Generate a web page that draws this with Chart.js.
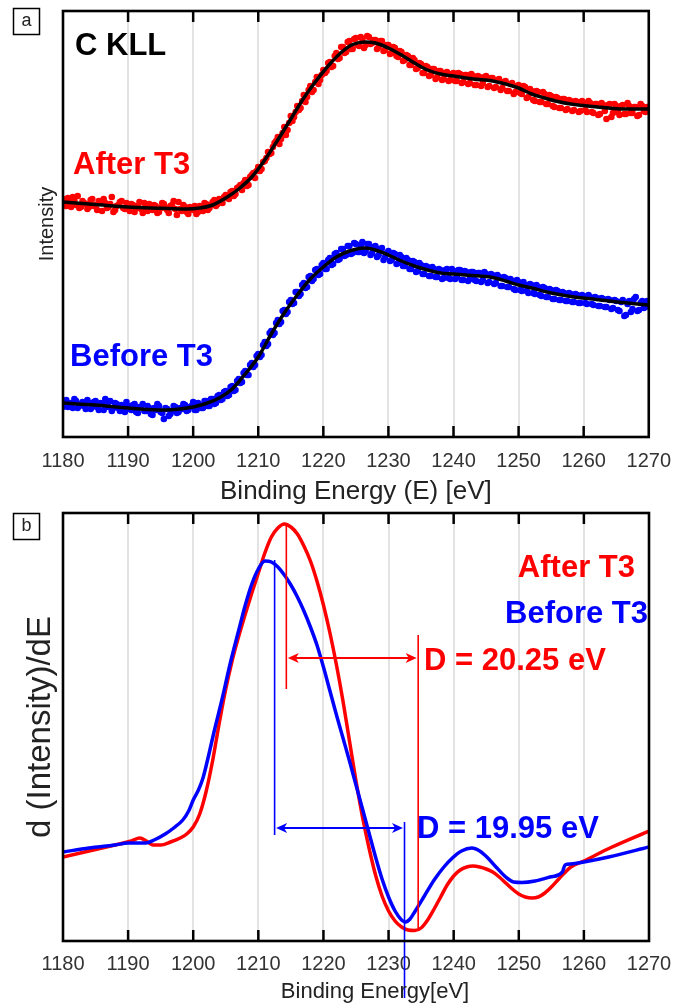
<!DOCTYPE html>
<html><head><meta charset="utf-8">
<script src="https://cdn.jsdelivr.net/npm/chart.js@4.4.1/dist/chart.umd.min.js"></script>
<style>
html,body{margin:0;padding:0;background:#fff;}
#wrap{position:relative;width:683px;height:1008px;overflow:hidden;}
canvas{position:absolute;left:0;}
</style></head><body>
<div id="wrap">
<canvas id="top" width="683" height="508" style="top:0;width:683px;height:508px"></canvas>
<canvas id="bot" width="683" height="500" style="top:508px;width:683px;height:500px"></canvas>
</div>
<script>
const FONT = '"Liberation Sans", Arial, Helvetica, sans-serif';

// ---- x axis ----
const xTicks = [1180, 1190, 1200, 1210, 1220, 1230, 1240, 1250, 1260, 1270];

// ---- panel a: measured C KLL spectra (arbitrary intensity units) ----
// set A: points at 1180, 1180.5, ... 1270 eV ; set B: points at 1180.25, 1180.75, ... 1269.75 eV
const scatterStartA = 1180, scatterStartB = 1180.25, scatterStep = 0.5;
const afterScatterA = [
 238,231,236,240,232,229,236,233,230,238,232,236,226,234,230,240,227,232,236,228,
 230,233,225,231,228,234,226,230,232,224,229,233,227,231,236,222,228,232,225,230,
 227,223,231,226,233,229,235,231,238,234,242,238,246,243,250,247,257,252,262,259,
 270,268,276,285,284,294,300,298,310,307,321,320,331,329,342,340,351,347,360,357,
 367,366,375,371,384,379,390,385,396,388,399,391,398,392,400,394,397,390,396,387,
 392,384,389,380,385,377,381,372,377,369,373,364,370,362,368,360,366,358,365,357,
 364,356,363,355,362,354,361,352,360,354,361,351,359,350,358,349,356,346,354,345,
 352,343,350,340,346,336,345,335,343,333,341,330,339,329,338,328,336,327,335,326,
 334,325,334,324,333,323,332,318,333,324,331,322,332,323,331,324,330,322,331,325,
 329];
const afterScatterB = [
 233,239,230,236,241,230,234,228,237,231,227,235,238,229,233,225,231,235,229,234,
 226,232,229,235,224,230,233,227,231,225,234,229,224,232,228,235,226,230,223,229,
 231,225,229,234,227,232,237,233,236,240,239,245,241,249,252,254,251,260,264,266,
 266,275,279,283,290,296,293,304,302,314,316,325,327,336,335,347,345,355,353,362,
 364,374,370,381,378,390,384,395,388,398,392,400,389,401,393,397,388,396,386,392,
 383,390,381,386,376,382,372,379,368,374,364,371,361,368,358,366,357,364,356,363,
 356,364,354,362,353,363,352,361,351,360,350,359,349,357,347,355,346,353,343,351,
 344,351,339,348,337,346,335,345,333,342,331,340,329,338,327,337,326,336,325,336,
 327,336,325,333,322,334,326,332,320,333,325,331,323,334,324,330,321,333,326,330];
const beforeScatterA = [
 30,37,33,29,36,31,35,28,34,30,36,27,33,38,30,26,34,29,32,25,
 31,27,33,24,30,26,31,23,29,33,25,18,28,23,31,24,29,33,26,30,
 35,27,32,29,36,31,38,34,42,38,46,42,51,47,58,55,66,62,74,72,
 83,82,95,93,106,104,117,115,127,125,137,134,145,143,154,150,161,158,168,163,
 174,168,179,173,184,178,188,182,191,184,193,185,195,186,193,184,191,182,189,180,
 186,177,183,174,180,171,177,168,175,166,172,163,170,161,168,160,167,159,168,158,
 166,160,167,157,165,158,165,156,164,157,163,155,162,154,160,151,159,150,156,147,
 155,146,152,144,152,143,150,141,149,140,147,138,146,137,144,136,143,135,142,134,
 141,133,140,132,139,131,138,130,137,129,136,126,137,122,136,128,140,127,136,130,
 134];
const beforeScatterB = [
 36,30,34,38,29,33,31,37,28,35,30,34,27,32,36,29,33,26,31,35,
 28,32,25,30,33,26,29,22,27,31,24,29,21,26,30,25,28,32,27,31,
 27,34,29,36,31,38,33,41,37,45,41,50,46,56,54,64,62,72,70,81,
 80,92,91,104,102,114,113,126,123,135,133,145,141,152,149,160,156,167,162,172,
 168,177,172,183,177,188,181,191,183,194,185,192,184,193,182,190,180,188,177,184,
 176,184,173,182,171,179,168,176,165,174,163,171,161,170,160,168,158,167,159,168,
 158,167,157,166,156,165,157,164,155,165,154,163,153,162,151,160,150,158,148,157,
 147,155,146,153,144,152,142,150,140,148,138,147,137,145,136,144,135,143,134,142,
 134,142,133,140,131,139,130,138,128,137,127,135,121,133,125,138,126,134,129,136];

// fitted curves (black lines)
const afterFitE = [1180,1185,1190,1195,1199,1201,1203,1205,1207,1209,1211,1213,1215,1217,1219,1221,1223,1224.5,1226.4,1228,1230,1232,1234,1236,1238,1240,1243,1246,1248,1250,1252,1254,1256,1258,1260,1263,1266,1270];
const afterFitI = [235,232.5,230,228.8,228,229,232,239,248,260,277,297,318,339,357,373,386,392.5,395,394,389,382,374,367,363,361,358,356,353,349,343,339,335.5,333,331.5,329.5,328,328];
const beforeFitE = [1180,1185,1190,1195.7,1198,1200,1202,1204,1206,1208,1210,1212,1214,1216,1218,1220,1222,1224,1226.4,1228,1230,1232,1234,1236,1238,1240,1244,1246,1248,1250,1252,1255,1258,1262,1266,1270];
const beforeFitI = [34,32,29,27,28,30,33.5,39,48,63,80,103,124,142,158,170,180,186,189,187,182,176,171,167,164,163,161,159.5,156,152,149,144,140.5,137.5,134.5,132];

// ---- panel b: first derivative d(Intensity)/dE (arbitrary units) ----
const afterDerivE = [1180,1184,1188,1190.5,1191.8,1192.8,1193.8,1195,1196.5,1198,1199,1200,1201,1202,1203,1204,1205,1206,1207,1208,1209,1210,1211,1212,1213,1214,1215,1216,1217,1218,1219,1220,1221,1222,1223,1224,1225,1226,1227,1228,1229,1230,1231,1232,1233,1234,1235,1236,1237,1238,1239,1240,1241,1242,1243,1244,1245,1246,1247,1248,1249,1250,1251,1252,1253,1254,1255,1256,1257,1258,1260,1264,1270];
const afterDerivV = [84,90,96,100,103,100,96,96,99,103,107,114,127,150,181,218,252,281,305,327,348,368,388,404,413,417,414,407,395,380,360,336,308,276,240,200,160,124,93,66,45,30,20,14,11,10.5,13,21,32,44,56,65,71,74,75,74,72,69,64,58,52,47,44,43,44,48,54,61,68,74,80,93,110];
const beforeDerivE = [1180,1184,1188,1190,1192.7,1194,1195.7,1197,1198.4,1199.3,1200,1200.8,1201.5,1202.2,1203.3,1204.4,1205.7,1207,1208,1209,1210,1211,1212,1213,1214,1215,1216,1217,1218,1219,1220,1221,1222,1223,1224,1225,1226,1227,1228,1229,1230,1231,1232,1232.6,1233.3,1234.1,1235.5,1237,1238.5,1239.8,1241.2,1242.8,1244,1245.1,1246.5,1248,1249.2,1250.5,1252.5,1254.8,1256.7,1257.1,1258,1260,1263.8,1270];
const beforeDerivV = [89,93,96,98,98,101,107,113,121,130,141,151,163,181,212,241,278,311,336,357,372,380,379,374,366,356,344,330,314,296,274,250,226,203,180,156,132,108,84,62,44,30,21,19,22,30,45,61,74,83,90,93,90,84,74,64,59,58.5,60,64,69,76,77,79,84,94];

// peak / minimum energies used for the D-parameter markers
const shiftLabels = ['D = 20.25 eV', 'D = 19.95 eV'];
const peakEnergies = [1214.3, 1212.5];
const minEnergies  = [1234.55, 1232.45];

const pts = (xs, ys) => xs.map((e, i) => ({x: e, y: ys[i]}));
const scatterPts = (a, b) => a.map((v, i) => ({x: scatterStartA + i * scatterStep, y: v}))
  .concat(b.map((v, i) => ({x: scatterStartB + i * scatterStep, y: v})));

function xScale(title, titleSize, tickPad, titlePadBottom, axisH, showTitle) {
  return {
    type: 'linear', min: 1180, max: 1270,
    afterBuildTicks: s => { s.ticks = xTicks.map(v => ({value: v})); },
    afterFit: s => { s.height = axisH; },
    ticks: {autoSkip: false, maxRotation: 0, padding: tickPad, color: '#333',
            font: {family: FONT, size: 20}, callback: v => String(v)},
    grid: {drawTicks: false, lineWidth: 2,
           color: c => (c.tick && (c.tick.value === 1180 || c.tick.value === 1270)) ? 'rgba(0,0,0,0)' : '#e3e3e3'},
    border: {display: false},
    title: {display: showTitle, text: title, color: '#222', font: {family: FONT, size: titleSize},
            padding: {top: 0, bottom: titlePadBottom}}
  };
}

function decorPlugin(letter, boxTop, labels, extra) {
  return {
    id: 'decor' + letter,
    afterDraw(chart) {
      const {ctx, chartArea: a, scales: {x}} = chart;
      ctx.save();
      ctx.strokeStyle = '#000';
      ctx.lineWidth = 2.5;
      xTicks.forEach(v => {
        if (v === x.min || v === x.max) return;
        const px = x.getPixelForValue(v);
        ctx.beginPath();
        ctx.moveTo(px, a.top); ctx.lineTo(px, a.top + 11);
        ctx.moveTo(px, a.bottom); ctx.lineTo(px, a.bottom - 11);
        ctx.stroke();
      });
      ctx.lineWidth = 2.6;
      ctx.strokeRect(a.left, a.top, a.right - a.left, a.bottom - a.top);
      // panel letter
      ctx.lineWidth = 1.5;
      ctx.strokeRect(13.5, boxTop + 0.5, 26, 26);
      ctx.fillStyle = '#222';
      ctx.font = '18px ' + FONT;
      ctx.textAlign = 'center'; ctx.textBaseline = 'middle';
      ctx.fillText(letter, 26.5, boxTop + 13);
      // text labels
      ctx.textBaseline = 'alphabetic';
      labels.forEach(l => {
        ctx.fillStyle = l.color;
        ctx.font = (l.font || 'bold 31px ') + FONT;
        ctx.textAlign = l.align || 'left';
        ctx.fillText(l.text, l.x, l.y);
      });
      ctx.restore();
    }
  };
}

const common = {
  responsive: false, animation: false, devicePixelRatio: 1, events: [],
  plugins: {legend: {display: false}, tooltip: {enabled: false}}
};

// ---------------- panel a ----------------
new Chart(document.getElementById('top'), {
  type: 'scatter',
  data: {datasets: [
    {label: 'After T3 fit', data: pts(afterFitE, afterFitI), showLine: true, borderColor: '#000',
     borderWidth: 3.5, pointRadius: 0, cubicInterpolationMode: 'monotone'},
    {label: 'Before T3 fit', data: pts(beforeFitE, beforeFitI), showLine: true, borderColor: '#000',
     borderWidth: 3.5, pointRadius: 0, cubicInterpolationMode: 'monotone'},
    {label: 'After T3', data: scatterPts(afterScatterA, afterScatterB), pointRadius: 3.3, pointBorderWidth: 0,
     backgroundColor: '#ff0000', borderColor: '#ff0000'},
    {label: 'Before T3', data: scatterPts(beforeScatterA, beforeScatterB), pointRadius: 3.3, pointBorderWidth: 0,
     backgroundColor: '#0000ff', borderColor: '#0000ff'}
  ]},
  options: Object.assign({}, common, {
    layout: {padding: {left: 0, right: 34, top: 11, bottom: 0}},
    scales: {
      x: xScale('Binding Energy (E) [eV]', 26, 12, 1, 71, true),
      y: {min: 0, max: 426, afterFit: s => { s.width = 63; },
          ticks: {display: false}, grid: {display: false, drawTicks: false}, border: {display: false},
          title: {display: true, text: 'Intensity', color: '#222', font: {family: FONT, size: 20},
                  padding: {top: 35, bottom: 0}}}
    }
  }),
  plugins: [decorPlugin('a', 8, [
    {text: 'C KLL', color: '#000', x: 75, y: 55},
    {text: 'After T3', color: '#ff0000', x: 73, y: 174},
    {text: 'Before T3', color: '#0000ff', x: 70, y: 366}
  ])]
});

// ---------------- panel b ----------------
const markerPlugin = {
  id: 'markers',
  afterDatasetsDraw(chart) {
    const {ctx, scales: {x, y}} = chart;
    const specs = [
      {color: '#ff0000', leftV: [252, 417], rightV: [13, 306], arrowV: 283},
      {color: '#0000ff', leftV: [106, 381], rightV: [-57, 119], arrowV: 113}
    ];
    ctx.save();
    specs.forEach((s, i) => {
      const xl = x.getPixelForValue(peakEnergies[i]);
      const xr = x.getPixelForValue(minEnergies[i]);
      ctx.strokeStyle = s.color; ctx.fillStyle = s.color;
      ctx.lineWidth = 1.6;
      ctx.beginPath();
      ctx.moveTo(xl, y.getPixelForValue(s.leftV[0])); ctx.lineTo(xl, y.getPixelForValue(s.leftV[1]));
      ctx.moveTo(xr, y.getPixelForValue(s.rightV[0])); ctx.lineTo(xr, y.getPixelForValue(s.rightV[1]));
      ctx.stroke();
      const ay = y.getPixelForValue(s.arrowV);
      const x0 = xl + 1.5, x1 = xr - 1.5;
      ctx.lineWidth = 2;
      ctx.beginPath(); ctx.moveTo(x0 + 6, ay); ctx.lineTo(x1 - 6, ay); ctx.stroke();
      ctx.beginPath(); ctx.moveTo(x0, ay); ctx.lineTo(x0 + 11, ay - 5); ctx.lineTo(x0 + 8, ay); ctx.lineTo(x0 + 11, ay + 5); ctx.closePath(); ctx.fill();
      ctx.beginPath(); ctx.moveTo(x1, ay); ctx.lineTo(x1 - 11, ay - 5); ctx.lineTo(x1 - 8, ay); ctx.lineTo(x1 - 11, ay + 5); ctx.closePath(); ctx.fill();
    });
    ctx.restore();
  }
};

new Chart(document.getElementById('bot'), {
  type: 'scatter',
  data: {datasets: [
    {label: 'Before T3', data: pts(beforeDerivE, beforeDerivV), showLine: true, borderColor: '#0000ff',
     borderWidth: 3.5, pointRadius: 0, cubicInterpolationMode: 'monotone'},
    {label: 'After T3', data: pts(afterDerivE, afterDerivV), showLine: true, borderColor: '#ff0000',
     borderWidth: 3.5, pointRadius: 0, cubicInterpolationMode: 'monotone'}
  ]},
  options: Object.assign({}, common, {
    layout: {padding: {left: 0, right: 34, top: 5, bottom: 0}},
    scales: {
      x: xScale('Binding Energy[eV]', 22, 11, 4, 67, false),
      y: {min: 0, max: 428, afterFit: s => { s.width = 63; },
          ticks: {display: false}, grid: {display: false, drawTicks: false}, border: {display: false},
          title: {display: true, text: 'd (Intensity)/dE', color: '#222', font: {family: FONT, size: 33},
                  padding: {top: 21, bottom: 0}}}
    }
  }),
  plugins: [markerPlugin, decorPlugin('b', 5, [
    {text: 'After T3', color: '#ff0000', x: 635, y: 69, align: 'right'},
    {text: 'Before T3', color: '#0000ff', x: 648, y: 115, align: 'right'},
    {text: shiftLabels[0], color: '#ff0000', x: 424, y: 162},
    {text: shiftLabels[1], color: '#0000ff', x: 417, y: 330},
    {text: 'Binding Energy[eV]', color: '#222', x: 375, y: 490, align: 'center', font: '22px '}
  ])]
});
</script>
</body></html>
